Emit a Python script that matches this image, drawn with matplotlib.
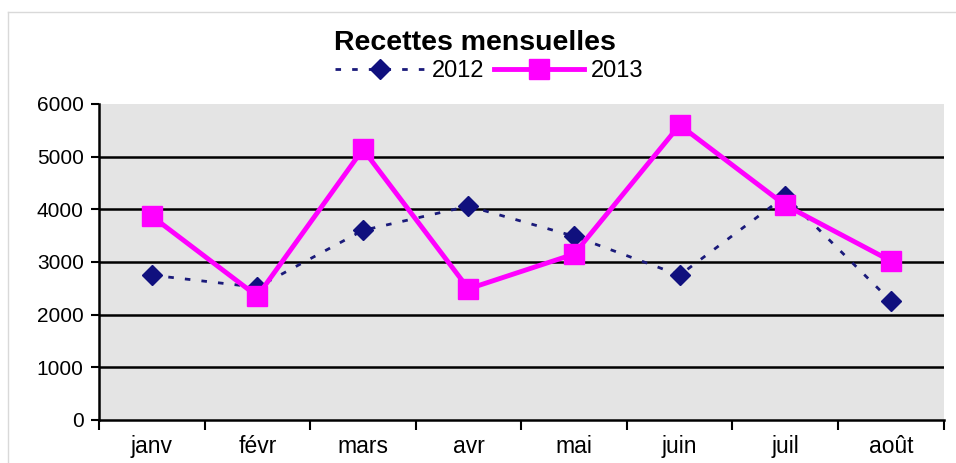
import numpy as np
import matplotlib as mpl
import matplotlib.pyplot as plt
from matplotlib.lines import Line2D

mpl.rcParams['font.family'] = ['Liberation Sans', 'DejaVu Sans']

mois = ['janv', 'févr', 'mars', 'avr', 'mai', 'juin', 'juil', 'août']
recettes_2012 = [2750, 2520, 3600, 4060, 3490, 2750, 4250, 2260]
recettes_2013 = [3870, 2350, 5140, 2490, 3150, 5600, 4080, 3020]


def main():
    fig = plt.figure(figsize=(9.56, 4.63), dpi=100)
    ax = fig.add_axes([0.1035, 0.0929, 0.8835, 0.6825])
    ax.set_facecolor('#e4e4e4')

    # cadre clair autour du graphique
    fig.add_artist(Line2D([8 / 956, 1], [1 - 12 / 463, 1 - 12 / 463],
                          color='#d9d9d9', linewidth=1, transform=fig.transFigure))
    fig.add_artist(Line2D([8 / 956, 8 / 956], [0, 1 - 12 / 463],
                          color='#d9d9d9', linewidth=1, transform=fig.transFigure))

    x = np.arange(len(mois))
    ax.plot(x, recettes_2012, linestyle=(0, (2, 4)), color='#1a1a7a', linewidth=2,
            marker='D', markersize=10, markerfacecolor='#10107e',
            markeredgecolor='#10107e', label='2012', zorder=3)
    ax.plot(x, recettes_2013, '-', color='#ff00ff', linewidth=3.5,
            marker='s', markersize=14, markerfacecolor='#ff00ff',
            markeredgecolor='#ff00ff', label='2013', zorder=4)

    ax.set_xlim(-0.5, len(mois) - 0.5)
    ax.set_ylim(0, 6000)
    ax.set_yticks(np.arange(0, 6001, 1000))
    ax.tick_params(axis='y', labelsize=15, length=6, width=1.5, direction='out', pad=5)

    ax.set_xticks(x)
    ax.set_xticklabels(mois, fontsize=16.5)
    ax.tick_params(axis='x', length=0, pad=11)
    ax.set_xticks(np.arange(-0.5, len(mois), 1), minor=True)
    ax.tick_params(axis='x', which='minor', length=7, width=1.5, direction='out')

    for v in range(1000, 6000, 1000):
        ax.axhline(v, color='black', linewidth=1.8, zorder=1)

    for side in ['top', 'right']:
        ax.spines[side].set_visible(False)
    ax.spines['left'].set_linewidth(1.8)
    ax.spines['bottom'].set_linewidth(1.8)

    fig.text(0.497, 0.908, 'Recettes mensuelles', ha='center', va='center',
             fontsize=20.5, fontweight='bold')
    fig.legend(loc='center', bbox_to_anchor=(0.512, 0.846), ncol=2, frameon=False,
               fontsize=17, handlelength=3.8, handletextpad=0.3, columnspacing=0.4,
               borderpad=0)

    fig.savefig('out.png', dpi=100)


if __name__ == '__main__':
    main()
